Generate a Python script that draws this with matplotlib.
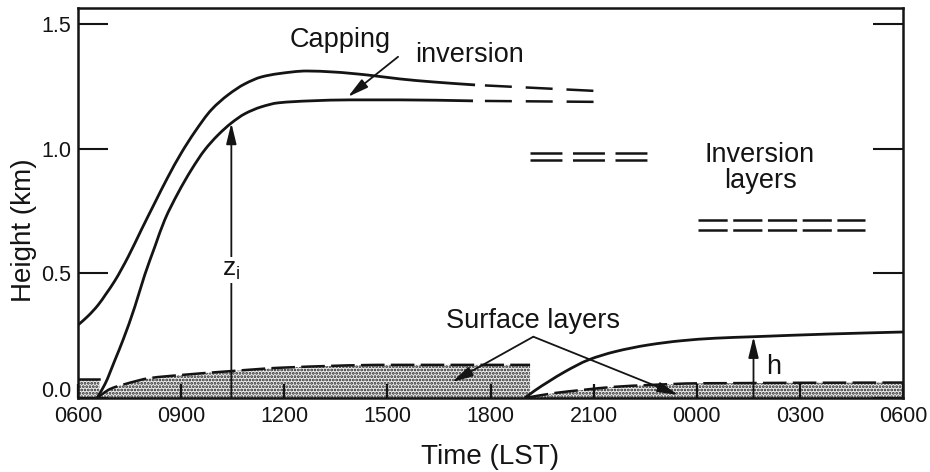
import matplotlib
matplotlib.use("Agg")
import matplotlib.pyplot as plt
from matplotlib.path import Path
from matplotlib.patches import PathPatch
from matplotlib.transforms import ScaledTranslation

plt.rcParams['font.family'] = ['Liberation Sans', 'DejaVu Sans']
plt.rcParams['lines.scale_dashes'] = False
plt.rcParams['hatch.linewidth'] = 1.35
plt.rcParams['hatch.color'] = '#222222'

# ---------------- data (hours since 00 LST of day 1; km) ----------------
tick_hours = [6, 9, 12, 15, 18, 21, 24, 27, 30]
tick_labels = ["0600", "0900", "1200", "1500", "1800", "2100", "0000", "0300", "0600"]
y_ticks = [0.0, 0.5, 1.0, 1.5]
y_tick_labels = ["0.0", "0.5", "1.0", "1.5"]

# top of capping inversion (solid part)
cap_top_t = [6.000, 6.291, 6.582, 6.815, 7.068, 7.455, 7.841, 8.231, 8.618, 9.005, 9.395,
             9.878, 10.364, 10.850, 11.333, 11.818, 12.66, 13.42, 14.41, 15.37, 16.33, 17.55]
cap_top_h = [0.293, 0.329, 0.373, 0.418, 0.470, 0.566, 0.675, 0.783, 0.888, 0.984, 1.068,
             1.157, 1.217, 1.261, 1.289, 1.302, 1.313, 1.309, 1.297, 1.281, 1.269, 1.257]
# mixed layer depth z_i (bottom of capping inversion, solid part)
zi_t = [6.553, 6.785, 7.076, 7.309, 7.649, 7.940, 8.231, 8.522, 8.909, 9.296, 9.686,
        10.073, 10.460, 10.850, 11.333, 11.818, 12.75, 13.91, 15.37, 17.49]
zi_h = [0.000, 0.056, 0.153, 0.233, 0.365, 0.494, 0.606, 0.715, 0.823, 0.916, 0.996,
        1.056, 1.104, 1.141, 1.169, 1.185, 1.193, 1.197, 1.197, 1.193]
# residual capping inversion after sunset (dashed)
cap_res_t = [17.55, 21.04]
cap_res_top = [1.257, 1.233]
cap_res_bot = [1.193, 1.189]
# elevated inversion layers at night
inv_mid_t = [19.15, 22.55]
inv_mid_top = [0.984, 0.984]
inv_mid_bot = [0.956, 0.956]
inv_late_t = [24.04, 28.90]
inv_late_top = [0.715, 0.715]
inv_late_bot = [0.675, 0.675]
# surface layers
sl_morning_t = [6.00, 6.62]
sl_morning_h = [0.075, 0.075]
sl_day_t = [6.553, 6.93, 7.37, 8.09, 8.97, 10.45, 11.96, 14.99, 19.15]
sl_day_h = [0.000, 0.036, 0.056, 0.080, 0.092, 0.108, 0.122, 0.133, 0.133]
sl_night_t = [19.00, 19.87, 20.65, 21.62, 22.58, 24.04, 30.00]
sl_night_h = [0.000, 0.020, 0.032, 0.045, 0.052, 0.059, 0.062]
# stable boundary layer depth h
sbl_t = [19.00, 19.29, 19.68, 20.17, 20.85, 21.62, 22.59, 23.56, 24.53, 25.65, 27.88, 30.00]
sbl_h = [0.000, 0.030, 0.065, 0.106, 0.153, 0.186, 0.213, 0.230, 0.240, 0.246, 0.257, 0.265]

zi_arrow_t, zi_arrow_h = 10.46, 1.104
h_arrow_t, h_arrow_h = 25.65, 0.246

INK = '#141414'


def smooth_path(t, h, close_to_ground=False):
    """Smooth (monotone cubic Hermite) Bezier path through the read points."""
    n = len(t)
    d = [(h[i + 1] - h[i]) / (t[i + 1] - t[i]) for i in range(n - 1)]
    m = [0.0] * n
    m[0] = d[0]
    m[-1] = d[-1]
    for i in range(1, n - 1):
        if d[i - 1] * d[i] > 0:
            w1 = 2 * (t[i + 1] - t[i]) + (t[i] - t[i - 1])
            w2 = (t[i + 1] - t[i]) + 2 * (t[i] - t[i - 1])
            m[i] = (w1 + w2) / (w1 / d[i - 1] + w2 / d[i])
        else:
            m[i] = 0.0
    verts = [(t[0], h[0])]
    codes = [Path.MOVETO]
    for i in range(n - 1):
        dt = t[i + 1] - t[i]
        verts += [(t[i] + dt / 3, h[i] + m[i] * dt / 3),
                  (t[i + 1] - dt / 3, h[i + 1] - m[i + 1] * dt / 3),
                  (t[i + 1], h[i + 1])]
        codes += [Path.CURVE4] * 3
    if close_to_ground:
        verts += [(t[-1], 0), (t[0], 0), (t[0], h[0])]
        codes += [Path.LINETO, Path.LINETO, Path.CLOSEPOLY]
    return Path(verts, codes)


def curve(ax, t, h, **kw):
    ax.add_patch(PathPatch(smooth_path(t, h), fill=False, capstyle='butt', **kw))


def stipple(ax, t, h):
    ax.add_patch(PathPatch(smooth_path(t, h, True), facecolor='#ededed',
                           edgecolor='#222222', hatch='.....', lw=0, zorder=1))


fig = plt.figure(figsize=(9.3, 4.72), dpi=100)
ax = fig.add_axes([0.0839, 0.1568, 0.8871, 0.8263])
ax.set_xlim(6, 30)
ax.set_ylim(0, 1.566)

# stippled surface layers
stipple(ax, sl_morning_t, sl_morning_h)
stipple(ax, sl_day_t, sl_day_h)
stipple(ax, sl_night_t, sl_night_h)

dash_sl = (0, (17, 4.5))
ax.plot(sl_morning_t, sl_morning_h, color=INK, lw=1.8, zorder=3)
curve(ax, sl_day_t, sl_day_h, ec=INK, lw=1.8, ls=dash_sl, zorder=3)
curve(ax, sl_night_t, sl_night_h, ec=INK, lw=1.8, ls=dash_sl, zorder=3)

# capping inversion and z_i
curve(ax, cap_top_t, cap_top_h, ec=INK, lw=2.0, zorder=3)
curve(ax, zi_t, zi_h, ec=INK, lw=2.0, zorder=3)
dash_res = (22.3, (19.4, 10))
ax.plot(cap_res_t, cap_res_top, color=INK, lw=1.8, ls=dash_res, zorder=3)
ax.plot(cap_res_t, cap_res_bot, color=INK, lw=1.8, ls=dash_res, zorder=3)

# night inversion layers
dash_mid = (0, (23, 7.6))
ax.plot(inv_mid_t, inv_mid_top, color=INK, lw=1.8, ls=dash_mid, zorder=3)
ax.plot(inv_mid_t, inv_mid_bot, color=INK, lw=1.8, ls=dash_mid, zorder=3)
dash_late = (0, (21, 4))
ax.plot(inv_late_t, inv_late_top, color=INK, lw=1.8, ls=dash_late, zorder=3)
ax.plot(inv_late_t, inv_late_bot, color=INK, lw=1.8, ls=dash_late, zorder=3)

# stable boundary layer
curve(ax, sbl_t, sbl_h, ec=INK, lw=2.0, zorder=3)

arrow_kw = dict(arrowstyle='-|>,head_length=0.9,head_width=0.22', color=INK,
                lw=1.3, shrinkA=0, shrinkB=0, mutation_scale=14)

# z_i arrow
ax.annotate('', xy=(zi_arrow_t, zi_arrow_h), xytext=(zi_arrow_t, 0),
            arrowprops=arrow_kw, zorder=4)
ax.text(zi_arrow_t, 0.514, r'$\mathregular{z_i}$', fontsize=19, ha='center', va='center',
        color=INK, zorder=5,
        bbox=dict(boxstyle='square,pad=0.05', fc='white', ec='none'))

# h arrow
ax.annotate('', xy=(h_arrow_t, h_arrow_h), xytext=(h_arrow_t, 0),
            arrowprops=arrow_kw, zorder=4)
ax.text(26.02, 0.125, 'h', fontsize=19.5, ha='left', va='center', color=INK, zorder=5)

# capping inversion label
ax.text(13.62, 1.41, 'Capping', fontsize=19.5, ha='center', va='baseline', color=INK)
ax.text(17.40, 1.349, 'inversion', fontsize=19.5, ha='center', va='baseline', color=INK)
ax.annotate('', xy=(13.85, 1.209), xytext=(15.31, 1.37), arrowprops=arrow_kw, zorder=4)

# inversion layers label
ax.text(25.84, 0.948, 'Inversion', fontsize=19.5, ha='center', va='baseline', color=INK)
ax.text(25.84, 0.843, 'layers', fontsize=19.5, ha='center', va='baseline', color=INK)

# surface layers label
ax.text(19.24, 0.282, 'Surface layers', fontsize=19.5, ha='center', va='baseline', color=INK)
ax.annotate('', xy=(16.88, 0.064), xytext=(19.245, 0.246), arrowprops=arrow_kw, zorder=4)
ax.annotate('', xy=(23.46, 0.012), xytext=(19.245, 0.246), arrowprops=arrow_kw, zorder=4)

# axes styling
ax.set_xticks(tick_hours)
ax.set_xticklabels(tick_labels)
ax.set_yticks(y_ticks)
ax.set_yticklabels(y_tick_labels)
ax.tick_params(axis='y', direction='in', length=21.6, width=1.5, left=True, right=True,
               labelsize=15.5, pad=5, colors=INK)
ax.tick_params(axis='x', direction='in', length=10, width=1.6, top=False,
               labelsize=15.5, pad=6, colors=INK)
for s in ax.spines.values():
    s.set_linewidth(1.8)
    s.set_color(INK)
    s.set_zorder(6)

zero_lbl = ax.yaxis.get_major_ticks()[0].label1
zero_lbl.set_transform(zero_lbl.get_transform() + ScaledTranslation(0, 0.09, fig.dpi_scale_trans))

ax.set_xlabel('Time (LST)', fontsize=20, color=INK)
ax.xaxis.set_label_coords(0.5, -0.118)
ax.set_ylabel('Height (km)', fontsize=20, color=INK)
ax.yaxis.set_label_coords(-0.050, 0.43)

fig.savefig('out.png', dpi=100)
